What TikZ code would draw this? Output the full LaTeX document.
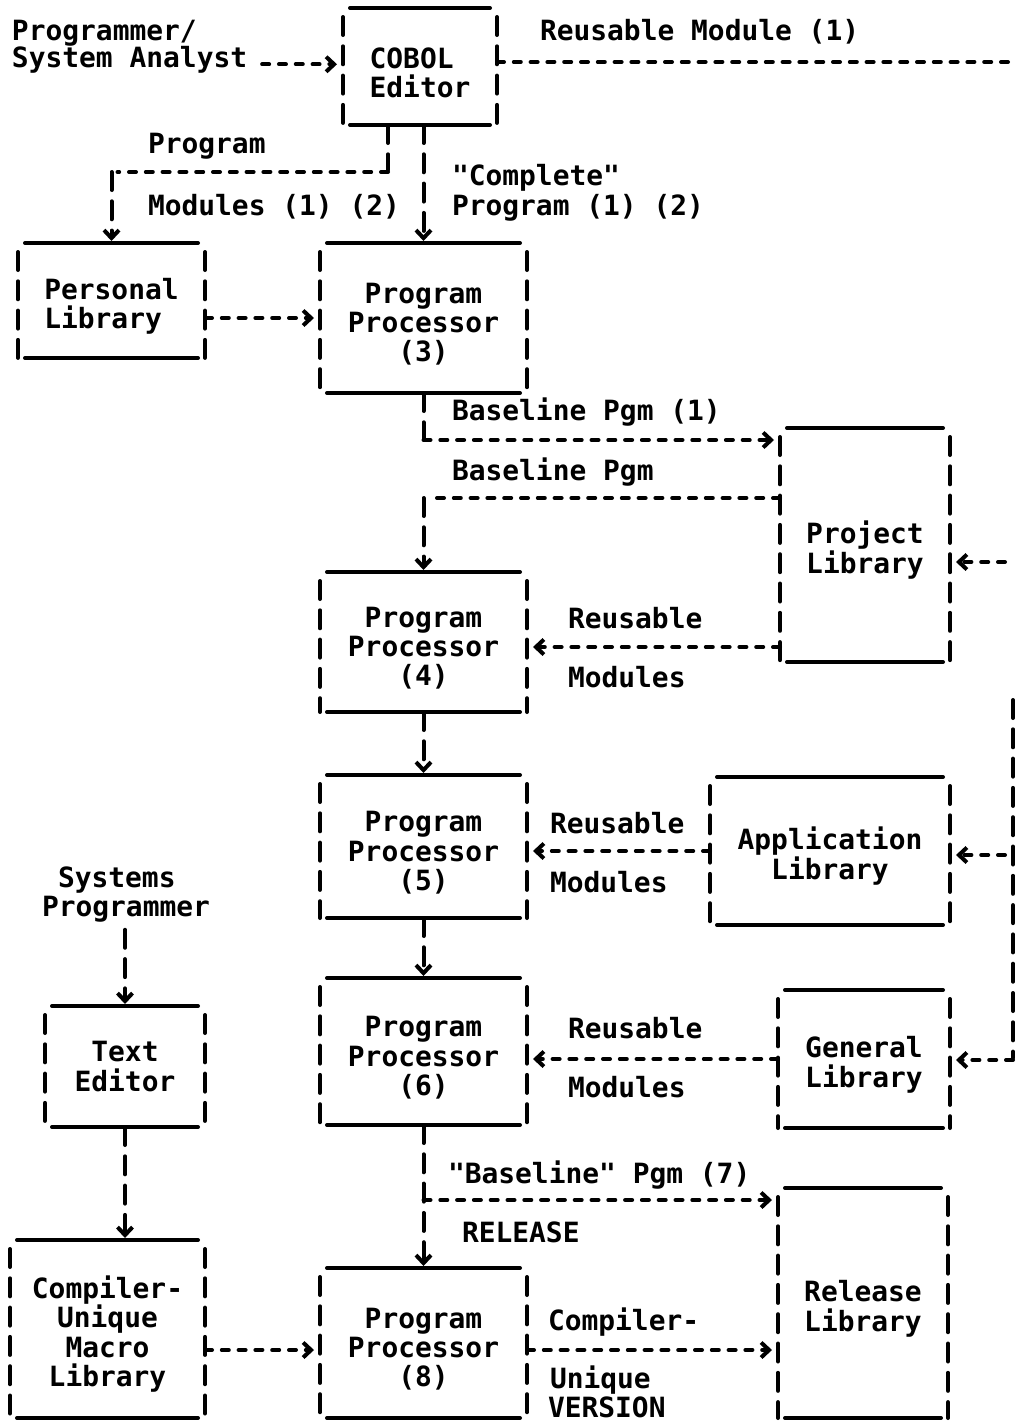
\documentclass[tikz,border=0pt]{standalone}
\usepackage{fontspec}
\setmainfont{DejaVu Sans Mono}
\usetikzlibrary{calc,arrows.meta}
\newcommand{\toppad}{\rule{0pt}{33pt}}

\begin{document}
\begin{tikzpicture}[x=1pt, y=-1pt, inner sep=0pt, outer sep=0pt,
    every node/.style={font=\fontsize{27.9}{29.3}\selectfont\bfseries},
    blk/.style 2 args={minimum width=#1pt, minimum height=#2pt, align=center},
    lbl/.style={anchor=base west},
    hbar/.style={line width=4pt, line cap=round},
    vbar/.style={line width=4pt, line cap=round, dash pattern=on 18pt off 11.3pt},
    hconn/.style={line width=4pt, line cap=round, dash pattern=on 7pt off 9.8pt, shorten >=6pt},
    vconn/.style={line width=4pt, line cap=round, dash pattern=on 18pt off 11.3pt, shorten >=2pt},
    >={Straight Barb[length=8pt,width=15pt]}]
    \useasboundingbox (0,0) rectangle (1017,1424);

    % editor
    \node[blk={154}{117}, align=left] (cobol_ed) at (420,66.5) {\toppad COBOL\\Editor};
    \node[lbl] (analyst_a) at (12,40) {Programmer/};
    \node[lbl] (analyst_b) at (12,67) {System Analyst};
    \node[lbl] (reuse_top) at (540,40) {Reusable Module (1)};
    \coordinate (reuse_end) at (1017,62);

    % personal library, processor (3)
    \node[blk={187}{115}, align=left] (pers_lib) at (111.5,300.5) {\toppad Personal\\Library};
    \node[blk={207}{150}] (pp_3) at (423.5,318) {\toppad Program\\Processor\\(3)};
    \node[lbl] (mods_a) at (148,153) {Program};
    \node[lbl] (mods_b) at (148,215) {Modules (1) (2)};
    \node[lbl] (compl_a) at (452,185) {\textquotedbl Complete\textquotedbl};
    \node[lbl] (compl_b) at (452,215) {Program (1) (2)};
    \coordinate (mods_split) at (388,172);

    % project library, processor (4)
    \node[blk={170}{234}] (proj_lib) at (865,545) {\toppad Project\\Library};
    \node[blk={207}{140}] (pp_4) at (423.5,642) {\toppad Program\\Processor\\(4)};
    \node[lbl] (base_a) at (452,420) {Baseline Pgm (1)};
    \node[lbl] (base_b) at (452,480) {Baseline Pgm};
    \node[lbl] (reuse_4a) at (568,628) {Reusable};
    \node[lbl] (reuse_4b) at (568,687) {Modules};
    \coordinate (base_out) at (pp_3.south |- 0,440);
    \coordinate (base_in) at (pp_4.north |- 0,498);

    % application library, processor (5)
    \node[blk={207}{143}] (pp_5) at (423.5,846.5) {\toppad Program\\Processor\\(5)};
    \node[blk={240}{148}] (app_lib) at (830,851) {\toppad Application\\Library};
    \node[lbl] (reuse_5a) at (550,833) {Reusable};
    \node[lbl] (reuse_5b) at (550,892) {Modules};

    % general library, processor (6)
    \node[blk={207}{147}] (pp_6) at (423.5,1051.5) {\toppad Program\\Processor\\(6)};
    \node[blk={172}{138}] (gen_lib) at (864,1059) {\toppad General\\Library};
    \node[lbl] (reuse_6a) at (568,1038) {Reusable};
    \node[lbl] (reuse_6b) at (568,1097) {Modules};

    % release library, processor (8)
    \node[blk={207}{150}] (pp_8) at (423.5,1343) {\toppad Program\\Processor\\(8)};
    \node[blk={170}{230}] (rel_lib) at (863,1303) {\toppad Release\\Library};
    \node[lbl] (rel_a) at (448,1183) {\textquotedbl Baseline\textquotedbl{} Pgm (7)};
    \node[lbl] (rel_b) at (462,1242) {RELEASE};
    \node[lbl] (ver_a) at (548,1330) {Compiler-};
    \node[lbl] (ver_b) at (550,1388) {Unique};
    \node[lbl] (ver_c) at (548,1417) {VERSION};
    \coordinate (rel_out) at (pp_6.south |- 0,1200);

    % systems programmer
    \node[lbl] (sysp_a) at (58,887) {Systems};
    \node[lbl] (sysp_b) at (42,916) {Programmer};
    \node[blk={160}{121}] (txt_ed) at (125,1066.5) {Text\\Editor};
    \node[blk={195}{178}] (macro_lib) at (107.5,1329) {\toppad Compiler-\\Unique\\Macro\\Library};

    % right hand feed
    \coordinate (feed_top) at (1013,700);
    \coordinate (feed_bot) at (1013,1060);
    \coordinate (feed_proj) at (1005,562);
    \coordinate (feed_app) at (1005,855);

    % boxes
    \foreach \b in {cobol_ed,pers_lib,pp_3,proj_lib,pp_4,pp_5,app_lib,pp_6,gen_lib,pp_8,rel_lib,txt_ed,macro_lib} {
        \draw[hbar] ([xshift=7pt]\b.north west) -- ([xshift=-7pt]\b.north east)
                    ([xshift=7pt]\b.south west) -- ([xshift=-7pt]\b.south east);
        \draw[vbar] ([yshift=-9pt]\b.north west) -- (\b.south west)
                    ([yshift=-9pt]\b.north east) -- (\b.south east);
    }

    % connectors
    \draw[hconn,->] ([xshift=15pt]analyst_b.mid east) -- (analyst_b.mid east -| cobol_ed.west);
    \draw[hconn] (cobol_ed.east |- reuse_end) -- (reuse_end);
    \draw[vconn] (cobol_ed.south -| mods_split) -- (mods_split);
    \draw[hconn] (mods_split) -- (mods_split -| pers_lib.north);
    \draw[vconn,->] (mods_split -| pers_lib.north) -- (pers_lib.north);
    \draw[vconn,->] (cobol_ed.south -| pp_3.north) -- (pp_3.north);
    \draw[hconn,->] (pers_lib.east |- pp_3.center) -- (pp_3.west);

    \draw[vconn] (pp_3.south) -- (base_out);
    \draw[hconn,->] (base_out) -- (base_out -| proj_lib.west);
    \draw[hconn] (base_in -| proj_lib.west) -- (base_in);
    \draw[vconn,->] (base_in) -- (pp_4.north);
    \draw[hconn,->] (proj_lib.west |- 0,647) -- (pp_4.east |- 0,647);
    \draw[vconn,->] (pp_4.south) -- (pp_5.north);

    \draw[hconn,->] (app_lib.west) -- (app_lib.west -| pp_5.east);
    \draw[vconn,->] (pp_5.south) -- (pp_6.north);
    \draw[hconn,->] (gen_lib.west) -- (gen_lib.west -| pp_6.east);

    \draw[vconn,->] (pp_6.south) -- (pp_8.north);
    \draw[hconn,->] (rel_out) -- (rel_out -| rel_lib.west);
    \draw[hconn,->] (macro_lib.east |- 0,1350) -- (pp_8.west |- 0,1350);
    \draw[hconn,->] (pp_8.east |- 0,1350) -- (rel_lib.west |- 0,1350);

    \draw[vconn,->] ([yshift=-8pt]sysp_b.south -| txt_ed.north) -- (txt_ed.north);
    \draw[vconn,->] (txt_ed.south) -- (txt_ed.south |- macro_lib.north);

    \draw[vconn] (feed_top) -- (feed_bot);
    \draw[hconn,->] (feed_proj) -- (feed_proj -| proj_lib.east);
    \draw[hconn,->] (feed_app) -- (feed_app -| app_lib.east);
    \draw[hconn,->] (feed_bot) -- (feed_bot -| gen_lib.east);
\end{tikzpicture}
\end{document}
